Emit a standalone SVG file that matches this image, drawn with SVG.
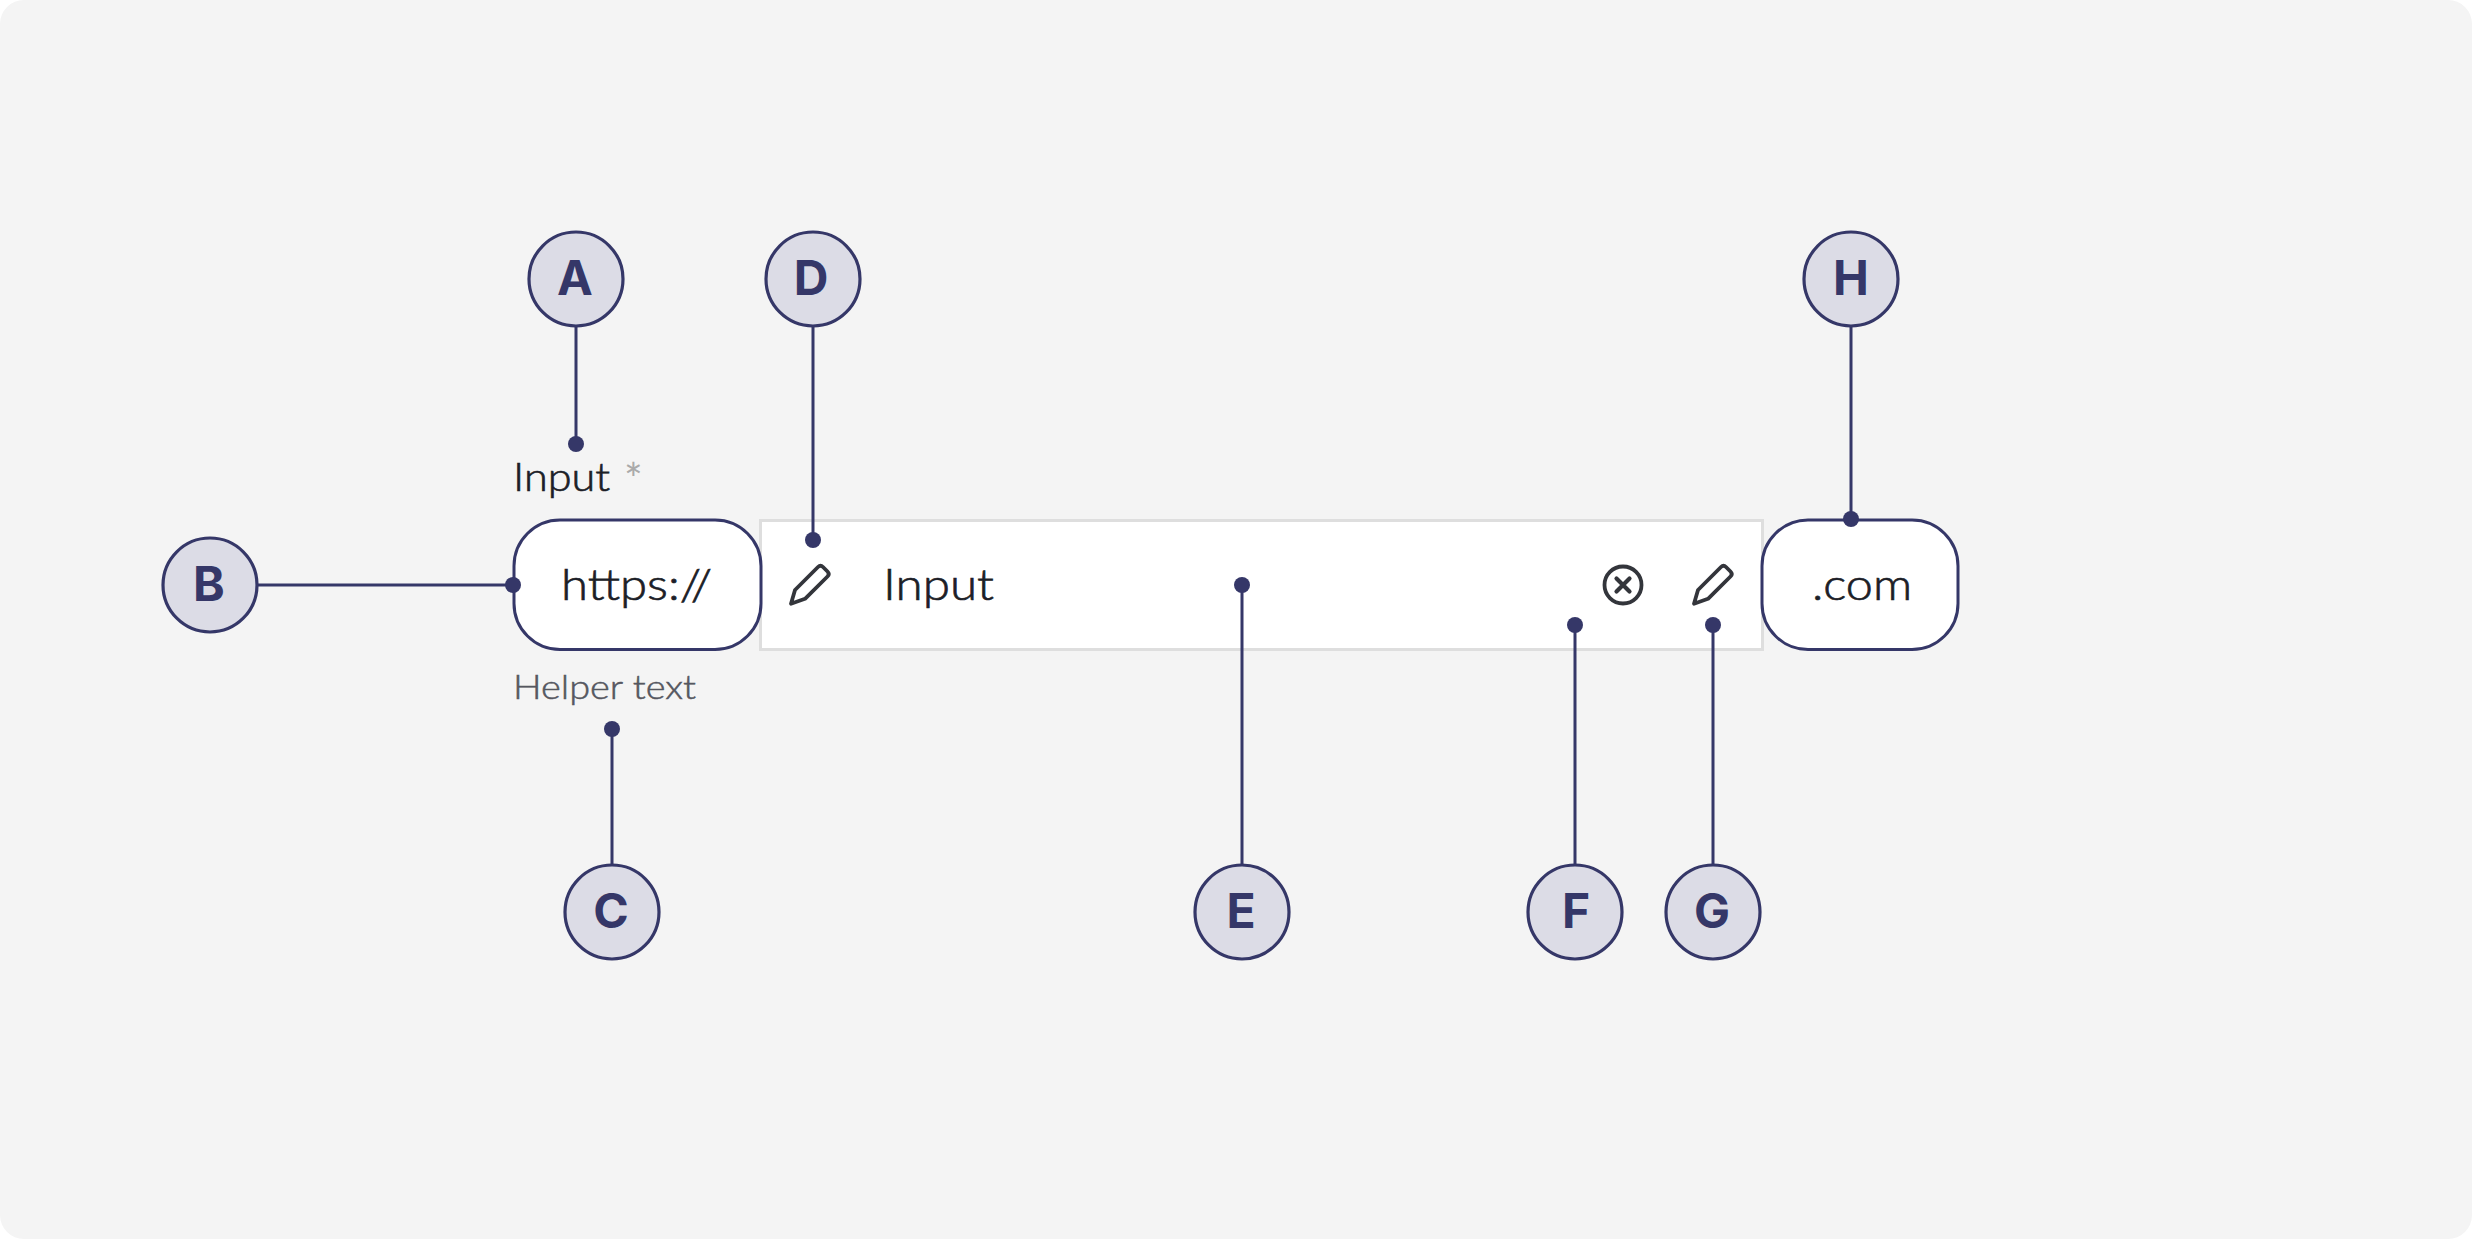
<svg xmlns="http://www.w3.org/2000/svg" width="2472" height="1239" viewBox="0 0 2472 1239">
<style>
.t{font-family:"Lato","Open Sans",sans-serif;font-weight:300;fill:#1c1e27;stroke:#1c1e27;stroke-width:.7}
.n circle{fill:#dcdce6;stroke:#353768;stroke-width:3.2}
.n text{font-family:"Inter","Noto Sans",sans-serif;font-weight:700;font-size:48px;fill:#353768;text-anchor:middle}
.b{fill:#fff;stroke:#353768;stroke-width:3}
#connectors line{stroke:#353768;stroke-width:3}
#connectors circle{fill:#353768}
.i{fill:none;stroke:#33353b;stroke-width:3.800;stroke-linejoin:round;stroke-linecap:round}
</style>
<rect width="2472" height="1239" rx="24" fill="#f4f4f4"/>
<g id="field">
<rect x="760.500" y="520.500" width="1002" height="129" fill="#fff" stroke="#dedede" stroke-width="3"/>
</g>
<g id="prefix"><rect class="b" x="514" y="520" width="247" height="129.500" rx="46"/><text class="t" x="561" y="600" font-size="44" textLength="151" lengthAdjust="spacingAndGlyphs">https://</text></g>
<g id="suffix"><rect class="b" x="1762" y="520" width="196" height="129.500" rx="46"/><text class="t" x="1812" y="600" font-size="44" textLength="100" lengthAdjust="spacingAndGlyphs">.com</text></g>
<g id="label"><text class="t" x="513" y="491" font-size="40" textLength="97" lengthAdjust="spacingAndGlyphs">Input</text><text x="624" y="495" font-family="Lato,sans-serif" font-size="44" fill="#aaaaaa">*</text></g>
<g id="helper"><text class="t" x="513" y="699" font-size="33" textLength="183" lengthAdjust="spacingAndGlyphs" style="fill:#555760;stroke:#555760;stroke-width:.5">Helper text</text></g>
<g id="value"><text class="t" x="883" y="600" font-size="44" textLength="111" lengthAdjust="spacingAndGlyphs">Input</text></g>
<g id="icon-leading"><path class="i" d="M791 603.700L795 590L818 567Q820.500 564.500 823 567L827.500 571.500Q830 574 827.500 576.500L805 598.800Z"/></g>
<g id="icon-clear"><circle class="i" cx="1623" cy="585" r="18.500"/><path class="i" d="M1616.500 578.500L1629.500 591.500M1629.500 578.500L1616.500 591.500" style="stroke-width:4.200"/></g>
<g id="icon-trailing"><path class="i" d="M1694 603.700L1698 590L1721 567Q1723.500 564.500 1726 567L1730.500 571.500Q1733 574 1730.500 576.500L1708 598.800Z"/></g>
<g id="connectors">
<line x1="576" y1="326" x2="576" y2="444"/><circle cx="576" cy="444" r="8"/>
<line x1="257" y1="585" x2="513" y2="585"/><circle cx="513" cy="585" r="8"/>
<line x1="612" y1="865" x2="612" y2="729"/><circle cx="612" cy="729" r="8"/>
<line x1="813" y1="326" x2="813" y2="540"/><circle cx="813" cy="540" r="8"/>
<line x1="1242" y1="865" x2="1242" y2="585"/><circle cx="1242" cy="585" r="8"/>
<line x1="1575" y1="865" x2="1575" y2="625"/><circle cx="1575" cy="625" r="8"/>
<line x1="1713" y1="865" x2="1713" y2="625"/><circle cx="1713" cy="625" r="8"/>
<line x1="1851" y1="326" x2="1851" y2="519"/><circle cx="1851" cy="519" r="8"/>
</g>
<g id="A" class="n"><circle cx="576" cy="279" r="47"/><text x="575" y="294.500">A</text></g>
<g id="B" class="n"><circle cx="210" cy="585" r="47"/><text x="209" y="600.500">B</text></g>
<g id="C" class="n"><circle cx="612" cy="912" r="47"/><text x="611" y="927.500">C</text></g>
<g id="D" class="n"><circle cx="813" cy="279" r="47"/><text x="811" y="294.500">D</text></g>
<g id="E" class="n"><circle cx="1242" cy="912" r="47"/><text x="1241" y="927.500">E</text></g>
<g id="F" class="n"><circle cx="1575" cy="912" r="47"/><text x="1576" y="927.500">F</text></g>
<g id="G" class="n"><circle cx="1713" cy="912" r="47"/><text x="1712" y="927.500">G</text></g>
<g id="H" class="n"><circle cx="1851" cy="279" r="47"/><text x="1851" y="294.500">H</text></g>
</svg>
